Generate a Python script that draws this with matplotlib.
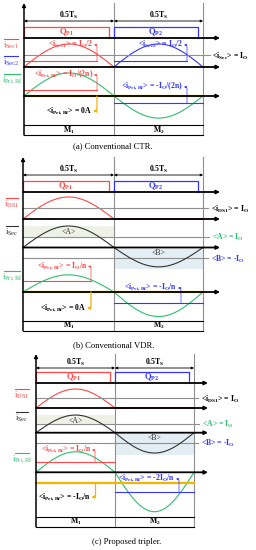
import numpy as np
import matplotlib
matplotlib.use('Agg')
import matplotlib.pyplot as plt

plt.rcParams['font.family'] = ['Liberation Serif', 'DejaVu Serif']
plt.rcParams['mathtext.fontset'] = 'stix'

RED = '#ff4747'
BLUE = '#3535ff'
GREEN = '#2fbf6f'
ORANGE = '#f4b400'
GRAY = '#8f8f8f'
DARKRED = '#b30000'

# ---- data (peaks/averages of each half period, in units of the row scale)
captions = ['(a) Conventional CTR.', '(b) Conventional VDR.', '(c) Proposed tripler.']
half_label = r'0.5T$\mathregular{_S}$'
switch_labels = [r'Q$\mathregular{_{P1}}$', r'Q$\mathregular{_{P2}}$']
mode_labels = [r'M$\mathregular{_1}$', r'M$\mathregular{_2}$']
q_duty = 0.94

ctr_sec1 = [1.0, 0.0]
ctr_sec2 = [0.0, 1.0]
ctr_pri = [1.0, -0.96]
ctr_sec_avg = [0.26, 0.26, 0.52]     # sec1, sec2, total
ctr_pri_avg = [0.26, -0.30, 0.0]     # M1, M2, whole period

vdr_ds1 = [1.0, 0.0]
vdr_sec = [1.0, -0.9]
vdr_pri = [0.7, -1.0]
vdr_ds1_avg = 0.5
vdr_sec_avg = [0.51, -0.5]
vdr_pri_avg = [0.46, -0.44, 0.0]

tri_ds1 = [1.0, 0.0]
tri_sec = [0.87, -1.0]
tri_pri = [0.52, -1.0]
tri_ds1_avg = 0.53
tri_sec_avg = [0.44, -0.5]
tri_pri_avg = [0.25, -0.5, -0.26]

# ---- layout (pixels)
fig = plt.figure(figsize=(2.56, 5.5), dpi=100)
ax = fig.add_axes([0, 0, 1, 1])
ax.set_xlim(0, 256)
ax.set_ylim(550, 0)
ax.axis('off')

FS = 5.6


def arrow(x0, y0, x1, y1, color='k', lw=1.1, ms=5):
    ax.annotate('', xy=(x1, y1), xytext=(x0, y0),
                arrowprops=dict(arrowstyle='-|>', color=color, lw=lw,
                                mutation_scale=ms, shrinkA=0, shrinkB=0))


def frame(xs, top, dim_y, q_top, q_axis, tab, cap_y, cap_x, cap):
    x0, xm, x1, xa = xs
    arrow(x0, tab[1], x0, top)
    ax.plot([xm, xm], [top, tab[1]], color=GRAY, lw=0.8)
    ax.plot([x1, x1], [top, tab[1]], color=GRAY, lw=0.8)
    for a, b in [(x0, xm), (xm, x1)]:
        ax.annotate('', xy=(a, dim_y), xytext=(b, dim_y),
                    arrowprops=dict(arrowstyle='<|-|>', color='k', lw=0.6,
                                    mutation_scale=3.5, shrinkA=0, shrinkB=0))
        ax.text((a + b) / 2, dim_y - 5.5, half_label, fontsize=FS,
                fontweight='bold', ha='center', va='center')
    for (a, b), c, lab in zip([(x0, xm), (xm, x1)], [RED, BLUE], switch_labels):
        e = a + q_duty * (b - a)
        ax.plot([a, a, e, e], [q_axis, q_top, q_top, q_axis], color=c, lw=0.9)
        ax.text((a + e) / 2, (q_top + q_axis) / 2, lab, color=c, fontsize=FS + 0.6,
                fontweight='bold', ha='center', va='center')
    arrow(x0, q_axis, xa, q_axis, lw=1.3)
    for y in tab:
        ax.plot([x0, x1], [y, y], color='k', lw=0.8)
    for (a, b), lab in zip([(x0, xm), (xm, x1)], mode_labels):
        ax.text((a + b) / 2, (tab[0] + tab[1]) / 2, lab, fontsize=FS,
                fontweight='bold', ha='center', va='center')
    ax.text(cap_x, cap_y, cap, fontsize=6.2, ha='center', va='center')


def wave(xs, base, sc, peaks, color, lw=0.8):
    x0, xm, x1 = xs[:3]
    for (a, b), pk in zip([(x0, xm), (xm, x1)], peaks):
        if pk == 0:
            continue
        t = np.linspace(a, b, 80)
        ax.plot(t, base - sc * pk * np.sin(np.pi * (t - a) / (b - a)), color=color, lw=lw)


def axis_line(xs, base):
    arrow(xs[0], base, xs[3], base, lw=1.3)


def avg_mark(a, b, y, color, xv, lab, ylab, lw=0.8):
    ax.plot([a, b], [y, y], color=color, lw=lw)
    ax.annotate('', xy=(xv - 3, ylab + 1), xytext=(xv, y),
                arrowprops=dict(arrowstyle='-|>', color=color, lw=0.5, mutation_scale=3,
                                shrinkA=0, shrinkB=0,
                                connectionstyle='angle,angleA=90,angleB=0,rad=2'))
    ax.text(xv - 4, ylab, lab, color=color, fontsize=FS, fontweight='bold',
            ha='right', va='center')


def side(x, y, txt, color, w=14):
    ax.plot([x - w / 2, x + w / 2], [y - 6, y - 6], color=color, lw=0.8)
    ax.text(x, y, txt, color=color, fontsize=6.4, ha='center', va='center')


def zero_note(xv, y, lab, ylab):
    ax.annotate('', xy=(xv - 4, ylab), xytext=(xv, y),
                arrowprops=dict(arrowstyle='-|>', color=ORANGE, lw=0.9, mutation_scale=4,
                                shrinkA=0, shrinkB=0,
                                connectionstyle='angle,angleA=90,angleB=0,rad=2'))
    ax.text(xv - 5, ylab, lab, fontsize=FS, fontweight='bold', ha='right', va='center')


pri_txt = r'<$\mathregular{i_{Pri,Rf}}$> = '

# ================= (a) Conventional CTR
xs = (24, 114, 203, 220)
frame(xs, 3, 21, 27, 38, (125, 135), 146, 113, captions[0])
b1, s1 = 67, 23
wave(xs, b1, s1, ctr_sec1, RED)
wave(xs, b1, s1, ctr_sec2, BLUE)
ax.plot([xs[0], 210], [b1 - s1 * ctr_sec_avg[2]] * 2, color=GRAY, lw=0.8)
ax.text(212, b1 - s1 * ctr_sec_avg[2] + 1.5, r'<$\mathregular{i_{Sec}}$> = I$\mathregular{_O}$',
        fontsize=FS, fontweight='bold', va='center')
avg_mark(xs[0], 97, b1 - s1 * ctr_sec_avg[0], RED, 97,
         r'<$\mathregular{i_{Sec1}}$> = I$\mathregular{_O}$/2', 44)
avg_mark(xs[1], 187, b1 - s1 * ctr_sec_avg[1], BLUE, 187,
         r'<$\mathregular{i_{Sec2}}$> = I$\mathregular{_O}$/2', 44)
axis_line(xs, b1)
b2, s2 = 96, 23
wave(xs, b2, s2, ctr_pri, GREEN)
avg_mark(xs[0], 97, b2 - s2 * ctr_pri_avg[0], RED, 97,
         pri_txt + r'I$\mathregular{_O}$/(2n)', 74)
avg_mark(xs[1], xs[2], b2 - s2 * ctr_pri_avg[1], BLUE, 187,
         pri_txt + r'-I$\mathregular{_O}$/(2n)', 86)
axis_line(xs, b2)
ax.plot([xs[0], xs[2]], [b2 - s2 * ctr_pri_avg[2]] * 2, color=ORANGE, lw=1.6)
zero_note(97, b2, pri_txt + '0A', 111)
side(11, 45, r'$\mathregular{i_{Sec1}}$', RED)
side(11, 62, r'$\mathregular{i_{Sec2}}$', BLUE)
side(12, 80, r'$\mathregular{i_{Pri,Rf}}$', GREEN, 16)

# ================= generic VDR / tripler drawing


def rect_panel(xs, top, dim_y, q_top, q_axis, ds, sec, pri, tab, cap_y, cap_x, cap,
               ds1, ds1_avg, secw, sec_avg, priw, pri_avg, right_x, m2_lab, m1_lab,
               vline):
    frame(xs, top, dim_y, q_top, q_axis, tab, cap_y, cap_x, cap)
    x0, xm, x1, xa = xs
    # drain current
    bd, sd = ds
    wave(xs, bd, sd, ds1, RED)
    ya = bd - sd * ds1_avg
    ax.plot([x0, right_x - 3], [ya, ya], color=GRAY, lw=0.8)
    ax.text(right_x, ya + 1, r'<$\mathregular{i_{DS1}}$> = I$\mathregular{_O}$', fontsize=FS,
            fontweight='bold', va='center')
    axis_line(xs, bd)
    ax.plot([xm, x1], [bd, bd], color=DARKRED, lw=1.1)
    # secondary current with shaded areas
    bs, ss = sec
    yA = bs - ss * sec_avg[0]
    yB = bs - ss * sec_avg[1]
    ax.fill_between([x0, xm], bs - ss * secw[0], yA, color='#eef2e6', lw=0, zorder=0)
    ax.fill_between([xm, x1], bs + 1, bs - ss * secw[1] + 2, color='#e3eef4', lw=0, zorder=0)
    ax.plot([x0, right_x - 2], [yA, yA], color=GRAY, lw=0.8)
    ax.plot([x0, right_x - 3], [yB, yB], color=GRAY, lw=0.8)
    wave(xs, bs, ss, secw, '#333333')
    ax.text((x0 + xm) / 2, bs - ss * secw[0] + 6, '<A>', fontsize=FS, color='#333333',
            ha='center', va='center')
    ax.text((xm + x1) / 2, bs + 5.5, '<B>', fontsize=FS, color='#333333',
            ha='center', va='center')
    ax.text(right_x + 1, yA + 1, r'<A> = I$\mathregular{_O}$', color=GREEN, fontsize=FS,
            fontweight='bold', va='center')
    ax.text(right_x, yB + 1, r'<B> = -I$\mathregular{_O}$', color=BLUE, fontsize=FS,
            fontweight='bold', va='center')
    axis_line(xs, bs)
    # primary resonant current
    bp, sp = pri
    wave(xs, bp, sp, priw, GREEN)
    avg_mark(x0, vline[0] if m1_lab[2] else xm, bp - sp * pri_avg[0], RED, vline[0],
             pri_txt + m1_lab[0], m1_lab[1])
    avg_mark(xm, x1, bp - sp * pri_avg[1], BLUE, vline[1], pri_txt + m2_lab[0], m2_lab[1])
    axis_line(xs, bp)
    yo = bp - sp * pri_avg[2]
    ax.plot([x0, x1], [yo, yo], color=ORANGE, lw=1.6)
    return yo


# ================= (b) Conventional VDR
xs = (23, 114, 203, 220)
yo = rect_panel(xs, 157, 175, 181, 192, (219, 22), (247.5, 21.5), (292, 24.5),
                (320.7, 330.5), 345, 114, captions[1],
                vdr_ds1, vdr_ds1_avg, vdr_sec, vdr_sec_avg, vdr_pri, vdr_pri_avg,
                211, (r'-I$\mathregular{_O}$/n', 287), (r'I$\mathregular{_O}$/n', 265.5, True),
                (91, 181))
zero_note(91, yo, pri_txt + '0A', 308)
side(12, 204, r'$\mathregular{i_{DS1}}$', RED, 12)
side(12, 232, r'$\mathregular{i_{Sec}}$', '#333333', 12)
side(12, 277, r'$\mathregular{i_{Pri,Rf}}$', GREEN, 16)

# ================= (c) Proposed tripler
xs = (36, 115, 194, 208)
yo = rect_panel(xs, 354, 368, 372, 383, (408, 19), (432.7, 20.3), (472.3, 39.4),
                (516.7, 526.7), 541.7, 127, captions[2],
                tri_ds1, tri_ds1_avg, tri_sec, tri_sec_avg, tri_pri, tri_pri_avg,
                201, (r'-2I$\mathregular{_O}$/n', 478), (r'I$\mathregular{_O}$/n', 449, False),
                (95, 179))
zero_note(95.5, yo, pri_txt + r'-I$\mathregular{_O}$/n', 497)
side(22, 395, r'$\mathregular{i_{DS1}}$', RED, 14)
side(22, 418, r'$\mathregular{i_{Sec}}$', '#333333', 12)
side(22, 459, r'$\mathregular{i_{Pri,Rf}}$', GREEN, 14)

fig.savefig('out.png', dpi=100)
